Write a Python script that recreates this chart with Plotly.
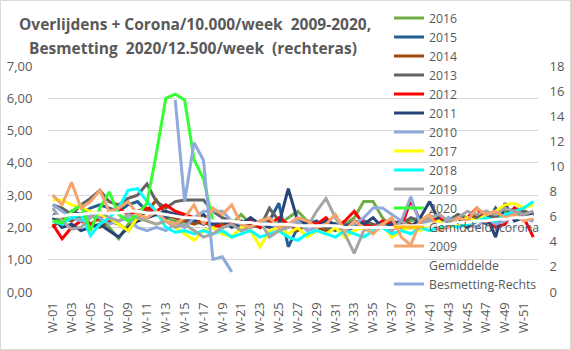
import plotly.graph_objects as go

weeks = ["W-01", "W-02", "W-03", "W-04", "W-05", "W-06", "W-07", "W-08", "W-09", "W-10",
         "W-11", "W-12", "W-13", "W-14", "W-15", "W-16", "W-17", "W-18", "W-19", "W-20",
         "W-21", "W-22", "W-23", "W-24", "W-25", "W-26", "W-27", "W-28", "W-29", "W-30",
         "W-31", "W-32", "W-33", "W-34", "W-35", "W-36", "W-37", "W-38", "W-39", "W-40",
         "W-41", "W-42", "W-43", "W-44", "W-45", "W-46", "W-47", "W-48", "W-49", "W-50",
         "W-51", "W-52"]
tick_weeks = weeks[::2]

y2016 = [2.3, 2.2, 2.5, 2.3, 2.4, 2.2, 2.0, 1.65, 2.1, 2.3,
         2.5, 2.4, 2.3, 2.2, 2.1, 2.3, 2.1, 2.2, 2.0, 2.1,
         2.4, 2.1, 2.0, 2.2, 2.1, 2.3, 2.5, 2.2, 2.0, 2.1,
         2.0, 2.1, 2.3, 2.8, 2.8, 2.3, 2.0, 2.1, 2.2, 2.3,
         2.1, 2.3, 2.2, 2.4, 2.3, 2.2, 2.4, 2.3, 2.5, 2.4,
         2.3, 2.5]
y2015 = [2.4, 2.3, 2.5, 2.4, 2.6, 2.7, 2.6, 2.5, 2.7, 2.8,
         2.5, 2.4, 2.3, 2.4, 2.3, 2.2, 2.1, 2.2, 2.0, 2.1,
         2.2, 2.0, 2.1, 2.2, 2.75, 1.4, 2.0, 2.1, 2.2, 2.0,
         2.1, 1.9, 2.0, 2.2, 2.0, 2.1, 1.9, 2.2, 2.0, 2.1,
         2.2, 2.0, 2.3, 2.1, 2.2, 2.3, 2.1, 2.6, 2.2, 2.4,
         2.3, 2.2]
y2014 = [2.0, 2.3, 2.2, 2.4, 2.1, 2.0, 2.2, 2.1, 1.9, 2.3,
         2.5, 2.85, 2.4, 2.3, 2.2, 2.1, 2.2, 2.0, 2.1, 2.2,
         1.9, 2.1, 2.0, 2.2, 2.0, 2.1, 1.9, 2.1, 2.0, 1.9,
         2.1, 2.0, 2.1, 2.2, 2.0, 2.1, 1.9, 2.2, 2.1, 2.0,
         2.3, 2.2, 2.1, 2.3, 2.2, 2.4, 2.3, 2.2, 2.4, 2.6,
         2.5, 2.4]
y2013 = [2.7, 2.6, 2.4, 2.7, 2.9, 3.15, 2.8, 2.7, 2.9, 3.0,
         3.35, 2.8, 2.6, 2.8, 2.85, 2.85, 2.85, 2.5, 2.3, 2.2,
         2.1, 2.3, 2.0, 2.6, 2.2, 2.1, 2.0, 2.2, 2.1, 2.0,
         1.9, 2.1, 2.0, 2.2, 2.1, 2.0, 2.2, 2.1, 2.3, 2.2,
         2.1, 2.3, 2.2, 2.4, 2.2, 2.3, 2.5, 2.3, 2.4, 2.3,
         2.5, 2.4]
y2012 = [2.1, 1.65, 2.0, 2.2, 2.1, 2.3, 2.5, 2.6, 2.4, 2.5,
         2.6, 2.5, 2.7, 2.5, 2.4, 2.3, 2.2, 2.1, 2.0, 2.2,
         2.1, 2.2, 2.0, 2.1, 2.3, 2.1, 2.0, 2.2, 2.1, 2.3,
         2.0, 2.2, 2.5, 2.1, 2.0, 2.2, 2.1, 2.0, 2.85, 2.2,
         2.1, 2.3, 2.2, 2.1, 2.3, 2.6, 2.2, 2.0, 2.1, 2.6,
         2.3, 1.7]
y2011 = [2.3, 2.0, 2.1, 1.9, 2.0, 2.1, 1.9, 1.7, 2.0, 2.2,
         2.3, 2.4, 2.5, 2.4, 2.3, 2.2, 2.4, 2.1, 2.2, 2.0,
         2.1, 2.3, 2.1, 2.0, 2.1, 3.2, 2.2, 2.1, 2.0, 2.2,
         2.1, 2.0, 2.2, 2.1, 2.3, 2.0, 2.1, 2.2, 2.0, 2.3,
         2.8, 2.2, 2.1, 2.3, 2.0, 2.2, 2.4, 1.7, 2.75, 2.2,
         2.3, 2.4]
y2010 = [2.7, 2.5, 2.3, 2.2, 2.4, 2.3, 2.1, 2.2, 2.3, 2.0,
         1.9, 2.0, 1.9, 2.1, 2.0, 2.3, 2.5, 2.5, 2.5, 2.2,
         2.1, 2.0, 2.2, 2.1, 2.0, 2.1, 2.2, 1.9, 2.0, 2.1,
         2.0, 1.9, 2.1, 2.3, 2.6, 2.6, 2.4, 2.2, 2.95, 2.1,
         2.2, 2.0, 2.3, 2.1, 2.2, 2.0, 2.3, 2.1, 2.2, 2.4,
         2.3, 2.2]
y2017 = [2.85, 2.85, 2.7, 2.6, 2.5, 2.4, 2.3, 2.1, 1.9, 2.3,
         2.2, 2.1, 2.2, 2.0, 1.8, 1.6, 1.9, 2.0, 1.8, 1.7,
         2.0, 1.9, 1.4, 1.9, 2.0, 1.8, 2.0, 1.7, 1.9, 1.8,
         2.0, 1.7, 1.9, 2.0, 1.8, 2.1, 1.7, 1.9, 2.0, 1.9,
         2.1, 2.2, 2.0, 2.1, 2.3, 2.2, 2.4, 2.5, 2.7, 2.75,
         2.6, 2.7]
y2018 = [2.2, 2.1, 2.3, 2.4, 1.75, 2.1, 2.3, 2.6, 3.15, 3.2,
         2.8, 2.5, 2.0, 1.85, 1.9, 1.8, 1.9, 1.8, 1.9, 1.7,
         1.8, 1.9, 1.7, 1.8, 1.9, 1.7, 1.6, 1.8, 1.9, 1.8,
         1.7, 1.9, 1.8, 1.7, 1.9, 2.0, 1.8, 1.9, 1.8, 2.0,
         1.9, 2.0, 2.1, 2.0, 2.1, 2.2, 2.3, 2.2, 2.4, 2.5,
         2.6, 2.8]
y2019 = [2.6, 2.2, 1.95, 2.0, 2.3, 2.5, 2.3, 2.2, 2.4, 2.3,
         2.2, 2.1, 2.2, 2.0, 2.1, 1.9, 1.7, 1.8, 2.0, 2.1,
         1.9, 2.0, 2.2, 1.7, 1.9, 2.0, 2.1, 2.0, 2.5, 2.9,
         2.3, 1.8, 1.2, 1.9, 2.0, 2.1, 1.9, 2.2, 2.0, 2.1,
         2.3, 2.4, 2.2, 2.3, 2.5, 2.4, 2.5, 2.4, 2.6, 2.5,
         2.4, 2.5]
y2020 = [2.2, 2.15, 2.5, 2.7, 1.9, 2.6, 3.1, 2.4, 2.2, 2.4,
         2.75, 4.3, 6.0, 6.13, 5.95, 4.1, 3.5, 2.2]
y_gem_corona = [None] * 52
y2009 = [3.0, 2.7, 3.4, 2.6, 2.8, 3.15, 2.5, 2.6, 2.8, 2.4,
         2.3, 2.5, 2.2, 2.1, 2.3, 2.7, 2.1, 2.6, 2.4, 2.7,
         2.1, 2.0, 2.2, 2.3, 2.0, 2.1, 2.3, 2.2, 2.0, 2.1,
         2.4, 1.9, 2.2, 2.0, 1.8, 2.1, 2.3, 1.7, 1.45, 2.2,
         2.4, 1.9, 2.0, 2.3, 2.2, 2.6, 2.4, 2.5, 2.3, 2.4,
         2.2, 2.3]
y_gemiddelde = [2.35, 2.35, 2.4, 2.4, 2.45, 2.45, 2.45, 2.45, 2.5, 2.5,
                2.45, 2.45, 2.4, 2.35, 2.3, 2.3, 2.25, 2.2, 2.2, 2.2,
                2.15, 2.15, 2.1, 2.1, 2.1, 2.1, 2.05, 2.05, 2.05, 2.05,
                2.05, 2.0, 2.0, 2.0, 2.0, 2.0, 2.0, 2.05, 2.05, 2.05,
                2.1, 2.1, 2.1, 2.15, 2.15, 2.2, 2.2, 2.25, 2.25, 2.3,
                2.3, 2.35]
y_besmetting = [None] * 13 + [15.3, 7.2, 11.9, 10.5, 2.6, 2.8, 1.6] + [None] * 32

series = [
    ("2016", y2016, "#70AD47"),
    ("2015", y2015, "#255E91"),
    ("2014", y2014, "#9E480E"),
    ("2013", y2013, "#636363"),
    ("2012", y2012, "#FF0000"),
    ("2011", y2011, "#264478"),
    ("2010", y2010, "#8FAADC"),
    ("2017", y2017, "#FFFF00"),
    ("2018", y2018, "#00FFFF"),
    ("2019", y2019, "#A5A5A5"),
    ("2020", y2020, "#33FF33"),
    ("Gemiddeld+corona", y_gem_corona, "#FFC000"),
    ("2009", y2009, "#F4A46C"),
    ("Gemiddelde", y_gemiddelde, "#FFFFFF"),
]

W, H = 571, 350
L, R, T, B = 48, 33, 66, 58
PW, PH = W - L - R, H - T - B


def px_x(x):
    return (x - L) / PW


def px_y(y):
    return (H - B - y) / PH


FONT = "Open Sans"
GREY = "#595959"

fig = go.Figure()
for name, vals, col in series:
    fig.add_trace(go.Scatter(
        x=weeks[:len(vals)], y=vals, name=name, mode="lines",
        line=dict(color=col, width=3), yaxis="y"))

fig.add_trace(go.Scatter(
    x=weeks, y=y_besmetting, name="Besmetting-Rechts", mode="lines",
    line=dict(color="#8FAADC", width=3), yaxis="y2"))

fig.update_layout(
    width=W, height=H,
    margin=dict(l=L, r=R, t=T, b=B, autoexpand=False),
    paper_bgcolor="white", plot_bgcolor="white",
    separators=",.",
    font=dict(family=FONT, color=GREY, size=13),
    showlegend=True,
    legend=dict(
        x=px_x(389), y=px_y(3.5), xanchor="left", yanchor="top",
        bgcolor="rgba(0,0,0,0)", borderwidth=0,
        font=dict(family=FONT, size=12.3, color=GREY),
        itemwidth=30, traceorder="normal", maxheight=400,
    ),
    xaxis=dict(
        type="category", categoryorder="array", categoryarray=weeks,
        tickmode="array", tickvals=tick_weeks, ticktext=tick_weeks,
        tickangle=-90, tickfont=dict(size=13, color=GREY, family=FONT),
        showgrid=False, zeroline=False, showline=False,
        ticks="outside", ticklen=4, tickcolor="rgba(0,0,0,0)",
        range=[-0.5, 51.5],
    ),
    yaxis=dict(
        range=[0, 7], dtick=1, tick0=0, tickformat=".2f",
        showgrid=True, gridcolor="#D9D9D9", gridwidth=1,
        zeroline=False, showline=False,
        ticks="outside", ticklen=12, tickcolor="rgba(0,0,0,0)",
        tickfont=dict(size=13, color=GREY, family=FONT),
    ),
    yaxis2=dict(
        overlaying="y", side="right", range=[0, 18], dtick=2, tick0=0,
        showgrid=False, zeroline=False, showline=False,
        ticks="outside", ticklen=8, tickcolor="rgba(0,0,0,0)",
        tickfont=dict(size=13, color=GREY, family=FONT),
    ),
    shapes=[dict(
        type="rect", xref="paper", yref="paper",
        x0=px_x(0.5), x1=px_x(W - 0.5), y0=px_y(H - 0.5), y1=px_y(0.5),
        line=dict(color="#D9D9D9", width=1), fillcolor="rgba(0,0,0,0)",
        layer="below",
    )],
    annotations=[
        dict(text="<b>Overlijdens + Corona/10.000/week\u00a0 2009-2020,</b>",
             xref="paper", yref="paper", x=px_x(195), y=px_y(24),
             xanchor="center", yanchor="middle", showarrow=False,
             font=dict(family=FONT, size=15.5, color=GREY)),
        dict(text="<b>Besmetting\u00a0 2020/12.500/week\u00a0 (rechteras)</b>",
             xref="paper", yref="paper", x=px_x(193), y=px_y(48),
             xanchor="center", yanchor="middle", showarrow=False,
             font=dict(family=FONT, size=15.5, color=GREY)),
    ],
)

fig.write_html("out.html")
